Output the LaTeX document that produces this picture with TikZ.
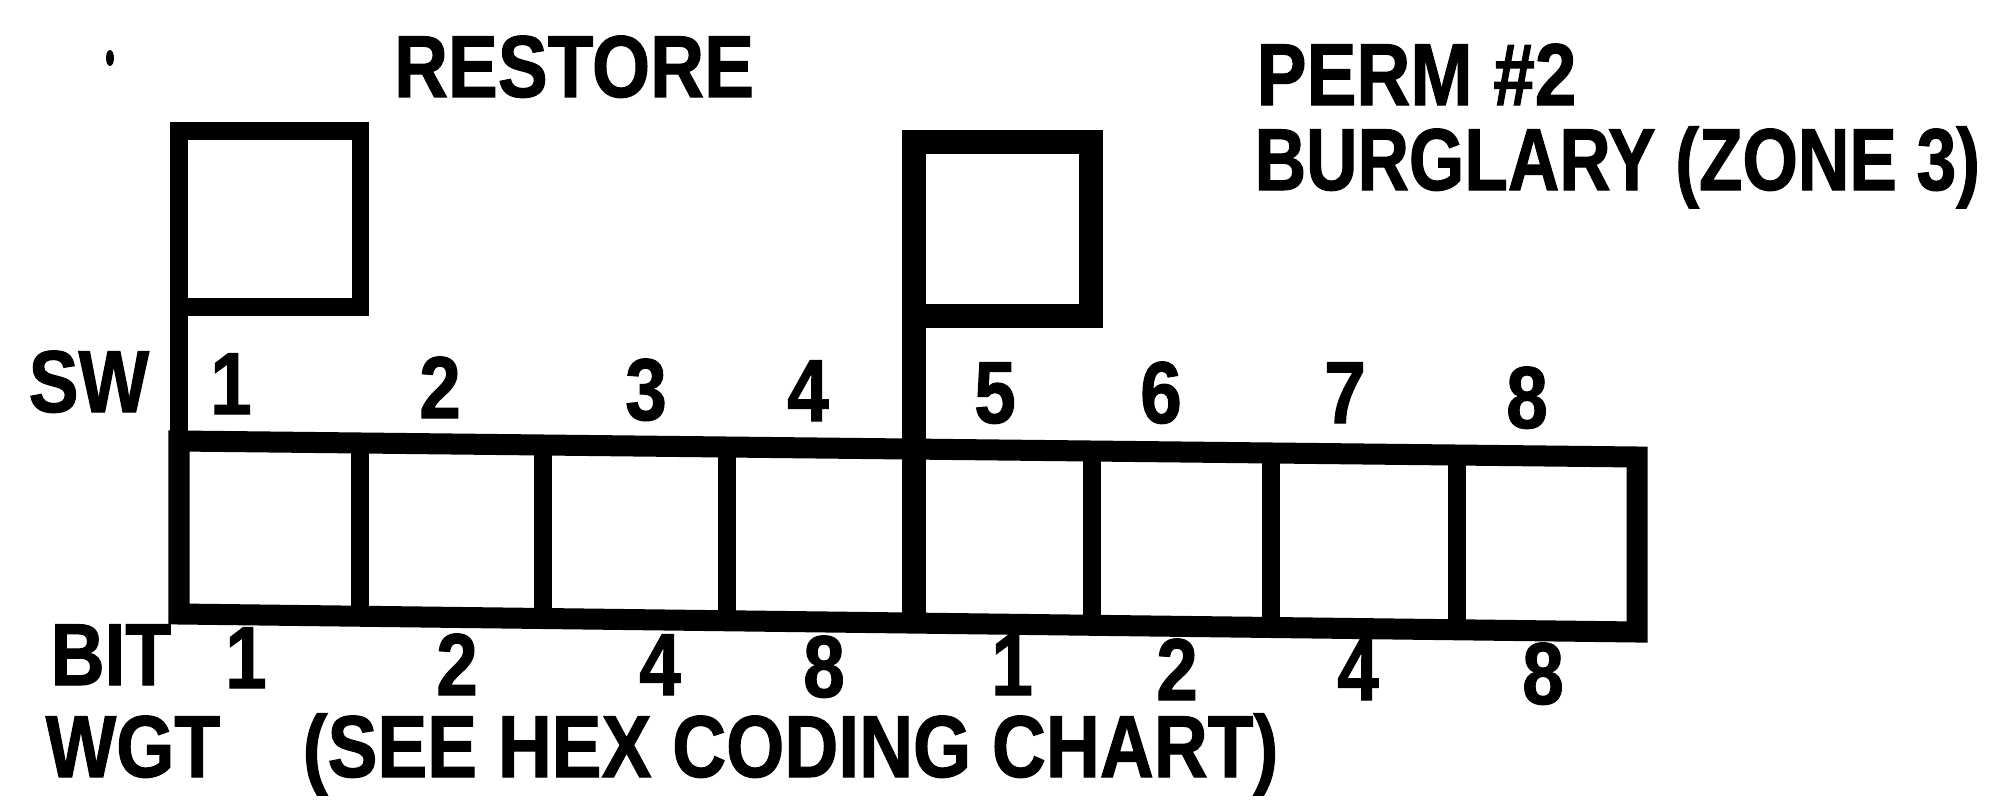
\documentclass[tikz,border=0pt]{standalone}
\usepackage{fontspec}
\newfontfamily\dipfont{Liberation Sans Bold}[FakeStretch=0.85, FakeBold=1.2]
\newfontfamily\dipnarrow{Liberation Sans Bold}[FakeStretch=0.81, FakeBold=1.2]
\usetikzlibrary{positioning}

\begin{document}
\begin{tikzpicture}[x=0.01cm, y=-0.01cm,
    lbl/.style={font=\dipfont\fontsize{25}{25}\selectfont, inner sep=0pt},
    narrowlbl/.style={lbl, font=\dipnarrow\fontsize{25}{25}\selectfont},
    frame/.style={line width=0.21cm, line join=miter},
    divider/.style={line width=0.18cm}]
  \useasboundingbox (0,0) rectangle (1997,800);
  \def\xl{179}     % left edge of the switch row
  \def\xr{1637}    % right edge of the switch row

  % headings
  \fill (110,58) ellipse (4 and 8);
  \node[lbl, anchor=base] (restore) at (574,97) {RESTORE};
  \node[lbl, anchor=base west] (perm) at (1256,105) {PERM \#2};
  \node[narrowlbl, anchor=base west] (burglary) at (1254,190) {BURGLARY (ZONE 3)};

  % switch positions shown up
  \draw[line width=0.17cm, line join=miter] (\xl,616) -- (\xl,131) -- (360,131) -- (360,307) -- (\xl,307);
  \draw[line width=0.24cm, line join=miter] (914,623) -- (914,142) -- (1091,142) -- (1091,316) -- (914,316);

  % the eight switches
  \draw[frame] (\xl,441) -- (\xr,457) -- (\xr,632) -- (\xl,614) -- cycle;
  \foreach \xx/\ya/\yb in {360/443/616, 543/445/619, 727/447/621,
                           1092/451/625, 1271/453/628, 1457/455/630}
    \draw[divider] (\xx,\ya) -- (\xx,\yb);

  % switch numbers and bit weights
  \node[lbl, anchor=base west] (sw) at (28,412) {SW};
  \foreach \n/\xx/\yy in {1/231/414, 2/440/418, 3/646/420, 4/808/421,
                          5/995/423, 6/1161/423, 7/1345/423, 8/1527/428}
    \node[lbl, anchor=base] (sw\n) at (\xx,\yy) {\n};
  \node[lbl, anchor=base west] (bit) at (50,685) {BIT};
  \foreach \i/\w/\xx/\yy in {1/1/246/688, 2/2/457/695, 3/4/660/695, 4/8/824/697,
                             5/1/1012/695, 6/2/1177/700, 7/4/1358/700, 8/8/1543/704}
    \node[lbl, anchor=base] (bit\i) at (\xx,\yy) {\w};
  \node[lbl, anchor=base west] (wgt) at (45,777) {WGT};
  \node[lbl, anchor=base west] (hex) at (302,777) {(SEE HEX CODING CHART)};
\end{tikzpicture}
\end{document}
